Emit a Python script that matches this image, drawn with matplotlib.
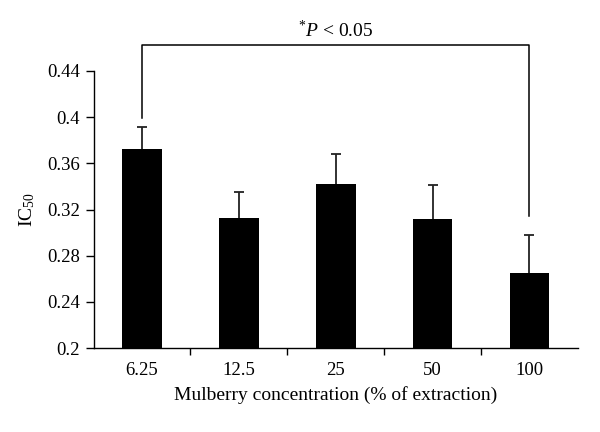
import matplotlib
matplotlib.use("Agg")
import matplotlib.pyplot as plt
import numpy as np

# data
conc = ["6.25", "12.5", "25", "50", "100"]
ic50 = [0.372, 0.313, 0.342, 0.312, 0.265]
err = [0.019, 0.022, 0.026, 0.029, 0.033]
yticks = [0.2, 0.24, 0.28, 0.32, 0.36, 0.4, 0.44]
ytick_labels = ["0.2", "0.24", "0.28", "0.32", "0.36", "0.4", "0.44"]

plt.rcParams['font.family'] = ['Liberation Serif', 'DejaVu Serif']
plt.rcParams['mathtext.fontset'] = 'custom'
plt.rcParams['mathtext.rm'] = 'Liberation Serif'
plt.rcParams['mathtext.it'] = 'Liberation Serif:italic'

fig = plt.figure(figsize=(6, 4.32), dpi=100)
ax = fig.add_axes([0.156, 0.194, 0.807, 0.642])

x = np.arange(len(conc))
ax.bar(x, ic50, width=0.41, color='black', zorder=2)
eb = ax.errorbar(x, ic50, yerr=[np.zeros(len(err)), err], fmt='none',
                 ecolor='#222222', elinewidth=1.3, capsize=3.5, capthick=1.3, zorder=1)
eb[1][0].set_visible(False)  # only the upper cap

ax.set_xlim(-0.5, len(conc) - 0.5)
ax.set_ylim(0.2, 0.44)
ax.set_yticks(yticks)
ax.set_yticklabels(ytick_labels)
ax.set_xticks(x)
ax.set_xticklabels(conc)
ax.set_xticks(np.arange(0.5, len(conc) - 1, 1.0), minor=True)
ax.tick_params(axis='x', which='major', length=0, pad=10, labelsize=13.5)
ax.tick_params(axis='x', which='minor', length=5, width=1, direction='out')
ax.tick_params(axis='y', length=6, width=1, direction='out', pad=4, labelsize=13.5)

for s in ['top', 'right']:
    ax.spines[s].set_visible(False)
for s in ['left', 'bottom']:
    ax.spines[s].set_linewidth(1.0)

ax.set_xlabel("Mulberry concentration (% of extraction)", fontsize=14, labelpad=5)
ax.set_ylabel("IC$_{50}$", fontsize=14, labelpad=7)

# significance bracket
top = 0.462
ax.plot([0, 0, 4, 4], [0.399, top, top, 0.314], color='black', lw=1.1,
        clip_on=False)
ax.text(2, top + 0.004, r"$^{*}P$ < 0.05", ha='center', va='bottom', fontsize=14)

fig.savefig("out.png", dpi=100)
